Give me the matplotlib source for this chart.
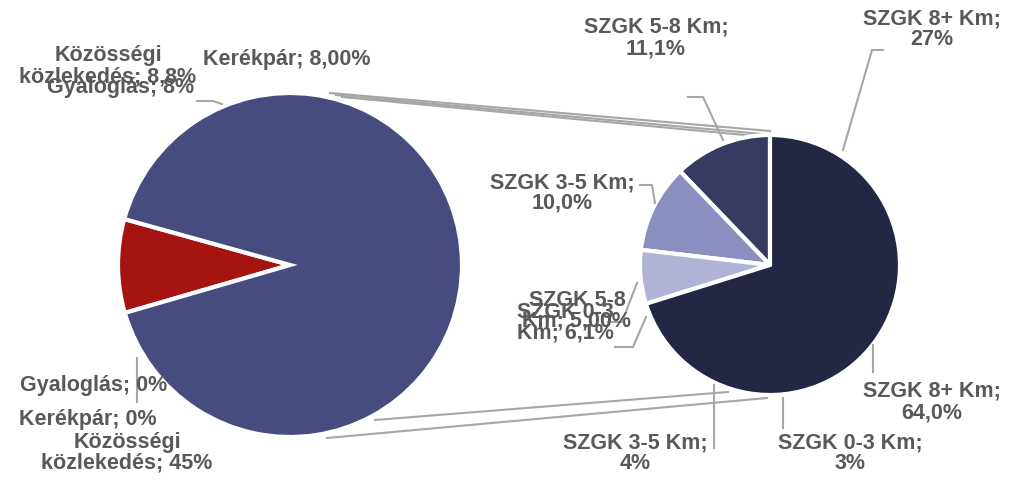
import matplotlib
matplotlib.use("Agg")
import matplotlib.pyplot as plt

# ---- data ----
main_labels = ["Közösségi közlekedés", "Egyéb"]
main_values = [8.8, 91.2]
main_colors = ["#a51410", "#474c7e"]

sub_labels = ["SZGK 5-8 Km", "SZGK 3-5 Km", "SZGK 0-3 Km", "SZGK 8+ Km"]
sub_values = [11.1, 10.0, 6.1, 64.0]
sub_colors = ["#373b61", "#8a8fc0", "#b0b3d6", "#232743"]

label_texts = [
    "Közösségi\nközlekedés; 8,8%",
    "Gyaloglás; 8%",
    "Kerékpár; 8,00%",
    "SZGK 5-8 Km;\n11,1%",
    "SZGK 8+ Km;\n27%",
    "SZGK 3-5 Km;\n10,0%",
    "SZGK 5-8\nKm; 5,00%",
    "SZGK 0-3\nKm; 6,1%",
    "SZGK 8+ Km;\n64,0%",
    "SZGK 3-5 Km;\n4%",
    "SZGK 0-3 Km;\n3%",
    "Gyaloglás; 0%",
    "Kerékpár; 0%",
    "Közösségi\nközlekedés; 45%",
]

W, H = 1015, 480
fig = plt.figure(figsize=(W / 100, H / 100), dpi=100)
ax = fig.add_axes([0, 0, 1, 1])
ax.set_xlim(0, W)
ax.set_ylim(0, H)
ax.set_aspect("equal")
ax.axis("off")

def Y(y):
    return H - y

GRAY = "#a6a6a6"
TXT = "#595959"

# connector lines (pie-of-pie)
for (x1, y1, x2, y2) in [(330, 93, 770, 131), (336, 95, 762, 134), (342, 97, 755, 136),
                         (375, 420, 728, 392), (327, 438, 767, 398)]:
    ax.plot([x1, x2], [Y(y1), Y(y2)], color=GRAY, lw=1.5, zorder=1)

# main pie
ax.pie(main_values, colors=main_colors, startangle=164.5, counterclock=True,
       center=(290, Y(265)), radius=172,
       wedgeprops=dict(edgecolor="white", linewidth=3), frame=True)
# secondary pie
ax.pie(sub_values, colors=sub_colors, startangle=90, counterclock=True,
       center=(770, Y(265)), radius=130,
       wedgeprops=dict(edgecolor="white", linewidth=3), frame=True)
ax.set_xlim(0, W)
ax.set_ylim(0, H)
ax.axis("off")

# leader lines
leaders = [
    [(197, 101), (213, 101), (222, 104)],
    [(688, 97), (703, 97), (723, 140)],
    [(883, 50), (872, 50), (843, 150)],
    [(640, 185), (652, 185), (655, 203)],
    [(608, 322), (622, 322), (637, 283)],
    [(615, 347), (633, 347), (646, 317)],
    [(873, 345), (873, 372)],
    [(714, 385), (714, 448)],
    [(783, 398), (783, 428)],
    [(137, 358), (137, 402)],
]
for pts in leaders:
    ax.plot([p[0] for p in pts], [Y(p[1]) for p in pts], color=GRAY, lw=1.5, zorder=3)

positions = [
    (108, 66), (121, 87), (287, 60), (656, 38), (932, 29), (562, 193),
    (577, 311), (565, 323), (932, 402), (635, 453), (850, 453),
    (94, 385), (88, 420), (127, 453),
]
for t, (x, y) in zip(label_texts, positions):
    ax.text(x, Y(y), t, ha="center", va="center", fontsize=15.5, fontweight="bold",
            color=TXT, family=["Liberation Sans", "DejaVu Sans"], linespacing=1.0, zorder=4)

fig.savefig("out.png", dpi=100)
